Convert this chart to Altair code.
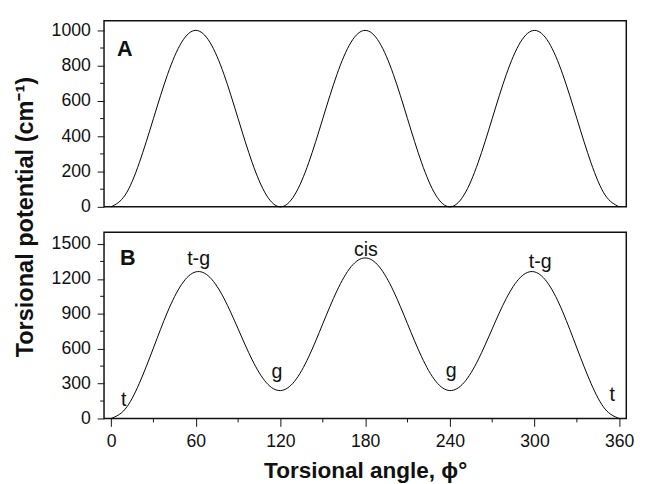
import altair as alt
import pandas as pd

# ---- data ----
angles = list(range(0, 361, 10))
potential_a = [0, 67, 250, 500, 750, 933, 1000, 933, 750, 500, 250, 67, 0,
               67, 250, 500, 750, 933, 1000, 933, 750, 500, 250, 67, 0,
               67, 250, 500, 750, 933, 1000, 933, 750, 500, 250, 67, 0]
potential_b = [0, 81, 302, 606, 916, 1153, 1260, 1213, 1032, 770, 503, 308, 240,
               320, 530, 814, 1097, 1304, 1380, 1304, 1097, 814, 530, 320, 240,
               308, 503, 770, 1032, 1213, 1260, 1153, 916, 606, 302, 81, 0]

conf_labels = ["t", "t-g", "g", "cis", "g", "t-g", "t"]
conf_x = [9, 62, 117.5, 180.5, 241, 304, 355]
conf_y = [160, 1373, 396, 1449, 404, 1348, 205]

panel_labels = ["A", "B"]
panel_x = [9.7, 11.8]
panel_y = [893, 1377]

x_major = [0, 60, 120, 180, 240, 300, 360]
x_minor = [30, 90, 150, 210, 270, 330]
ya_major = [0, 200, 400, 600, 800, 1000]
ya_minor = [100, 300, 500, 700, 900]
yb_major = [0, 300, 600, 900, 1200, 1500]
yb_minor = [150, 450, 750, 1050, 1350]

FONT = "Liberation Sans"
INK = "#111111"

df_a = pd.DataFrame({"angle": angles, "v": potential_a})
df_b = pd.DataFrame({"angle": angles, "v": potential_b})
df_conf = pd.DataFrame({"angle": conf_x, "v": conf_y, "label": conf_labels})
df_pa = pd.DataFrame({"angle": panel_x[:1], "v": panel_y[:1], "label": panel_labels[:1]})
df_pb = pd.DataFrame({"angle": panel_x[1:], "v": panel_y[1:], "label": panel_labels[1:]})

W, H = 533, 190
xscale = alt.Scale(domain=[-5, 365], nice=False, zero=False)
MINOR = 4


def y_minor_layer(values):
    return alt.Chart(pd.DataFrame({"v": values})).mark_rule(color=INK, strokeWidth=1).encode(
        y="v:Q", x=alt.value(-MINOR), x2=alt.value(0)
    )


# ---- panel A ----
ya_axis = alt.Axis(
    values=ya_major, tickCount=40, format="d", tickSize=7, labelPadding=7,
    labelOverlap=False, labelFlush=False,
    title="Torsional potential (cm⁻¹)",
    titleX=-73, titleY=200, titleAngle=270, titleAlign="center",
    titleBaseline="alphabetic", titleFontSize=24,
)
line_a = alt.Chart(df_a).mark_line(color="black", strokeWidth=1, interpolate="natural").encode(
    x=alt.X("angle:Q", scale=xscale, axis=None),
    y=alt.Y("v:Q", scale=alt.Scale(domain=[0, 1055], nice=False), axis=ya_axis),
)
lab_a = alt.Chart(df_pa).mark_text(font=FONT, fontSize=22, fontWeight="bold", color=INK).encode(
    x="angle:Q", y="v:Q", text="label:N"
)
panel_a = alt.layer(line_a, y_minor_layer(ya_minor), lab_a).properties(width=W, height=H)

# ---- panel B ----
yb_axis = alt.Axis(values=yb_major, tickCount=40, format="d", tickSize=7, labelPadding=7,
                   labelOverlap=False, labelFlush=False, title=None)
xb_axis = alt.Axis(
    values=x_major, tickCount=40, format="d", tickSize=8, labelPadding=7, labelFlush=False,
    labelOverlap=False,
    title="Torsional angle, ϕ°", titleFontSize=23, titleY=60, titleBaseline="alphabetic",
)
line_b = alt.Chart(df_b).mark_line(color="black", strokeWidth=1, interpolate="natural").encode(
    x=alt.X("angle:Q", scale=xscale, axis=xb_axis),
    y=alt.Y("v:Q", scale=alt.Scale(domain=[0, 1600], nice=False), axis=yb_axis),
)
x_minor_b = alt.Chart(pd.DataFrame({"angle": x_minor})).mark_rule(color=INK, strokeWidth=1).encode(
    x="angle:Q", y=alt.value(H), y2=alt.value(H + MINOR)
)
lab_b = alt.Chart(df_pb).mark_text(font=FONT, fontSize=22, fontWeight="bold", color=INK).encode(
    x="angle:Q", y="v:Q", text="label:N"
)
conf_b = alt.Chart(df_conf).mark_text(font=FONT, fontSize=20, color=INK).encode(
    x="angle:Q", y="v:Q", text="label:N"
)
panel_b = alt.layer(line_b, y_minor_layer(yb_minor), x_minor_b, lab_b, conf_b).properties(
    width=W, height=H
)

chart = alt.vconcat(panel_a, panel_b, spacing=26, bounds="flush").properties(
    padding={"left": 5, "top": 7, "right": 5, "bottom": 0}
).configure_view(
    stroke=INK, strokeWidth=1.5
).configure_axis(
    domain=False, grid=False,
    labelFont=FONT, labelFontSize=18, labelColor=INK,
    tickColor=INK, tickWidth=1,
    titleFont=FONT, titleFontWeight="bold", titleColor=INK,
)

chart.save("out.html", embed_options={"renderer": "svg", "actions": False})
